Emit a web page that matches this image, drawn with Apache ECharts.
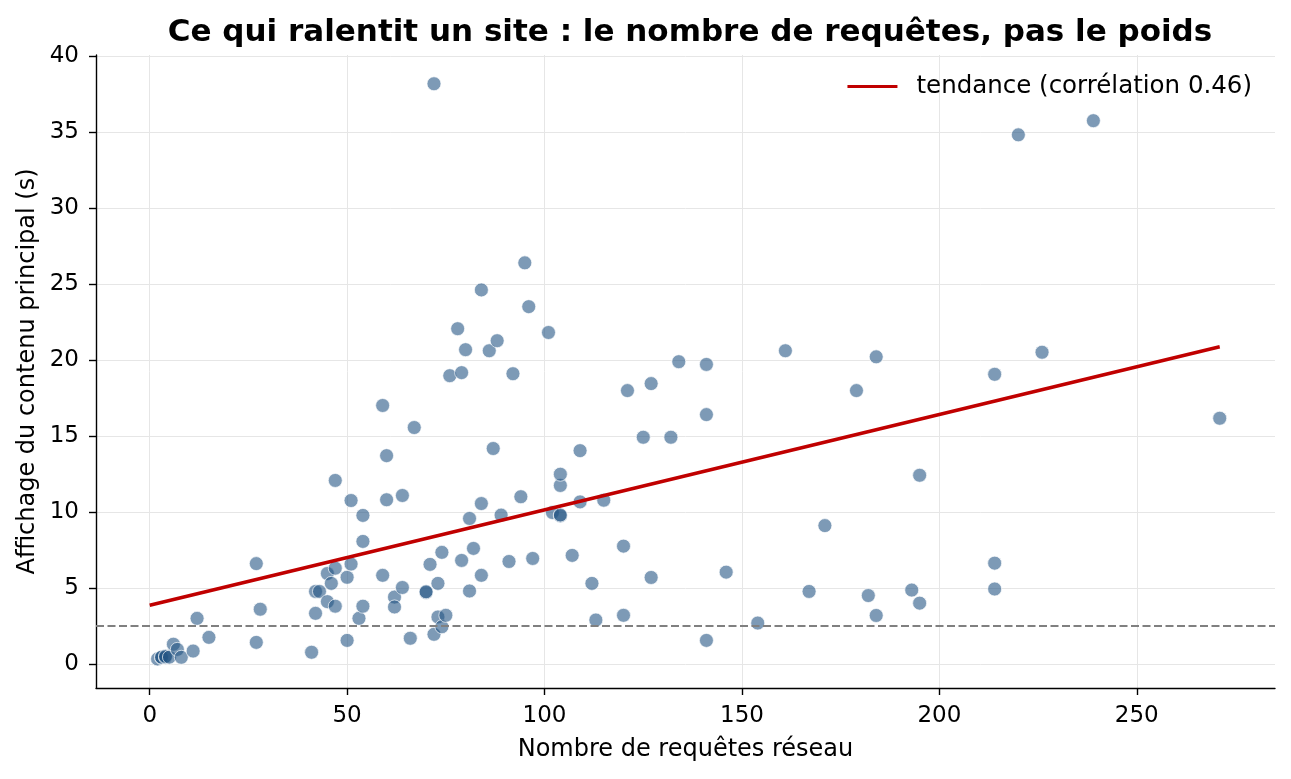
<!DOCTYPE html>
<html>
<head>
<meta charset="utf-8">
<title>Requêtes vs affichage</title>
<script src="https://cdn.jsdelivr.net/npm/echarts@6/dist/echarts.min.js"></script>
<style>
  html, body { margin: 0; padding: 0; background: #fff; }
  #chart { width: 1291px; height: 779px; }
</style>
</head>
<body>
<div id="chart"></div>
<script>
// number of requests per site (x)
var requests = [
  2, 3, 3, 4, 4, 5, 6, 7, 8, 11, 12, 15, 27, 27, 28,
  41, 42, 42, 43, 45, 45, 46, 47, 47, 47, 50, 50, 51, 51, 53, 54, 54, 54,
  59, 59, 60, 60, 62, 62, 64, 64, 66, 67, 70, 70, 71, 72, 72, 73, 73, 74, 74, 75,
  76, 78, 79, 79, 80, 81, 81, 82, 84, 84, 84, 86, 87, 88, 89, 91, 92, 94, 95, 96, 97,
  101, 102, 104, 104, 104, 104, 107, 109, 109, 112, 113, 115, 120, 120, 121,
  125, 127, 127, 132, 134, 141, 141, 141, 146, 154, 161, 167, 171, 179,
  182, 184, 184, 193, 195, 195, 214, 214, 214, 220, 226, 239, 271
];
// largest contentful paint, seconds (y)
var lcp = [
  0.33, 0.42, 0.45, 0.44, 0.5, 0.45, 1.3, 0.96, 0.44, 0.85, 3.0, 1.75, 6.6, 1.42, 3.6,
  0.77, 3.33, 4.77, 4.77, 4.1, 5.95, 5.3, 6.3, 3.8, 12.07, 5.7, 1.55, 6.57, 10.75, 3.0, 9.77, 8.06, 3.8,
  17.0, 5.83, 13.7, 10.8, 4.4, 3.75, 5.03, 11.08, 1.69, 15.55, 4.7, 4.75, 6.55, 1.95, 38.16, 5.3, 3.09, 7.34, 2.45, 3.2,
  18.96, 22.05, 19.16, 6.81, 20.67, 9.57, 4.8, 7.6, 5.83, 10.55, 24.6, 20.6, 14.17, 21.26, 9.79, 6.74, 19.09, 11.0, 26.38, 23.5, 6.94,
  21.8, 9.96, 9.74, 9.8, 11.74, 12.48, 7.14, 14.03, 10.66, 5.3, 2.89, 10.77, 7.75, 3.2, 17.98,
  14.91, 5.69, 18.44, 14.91, 19.88, 19.7, 16.4, 1.55, 6.04, 2.69, 20.6, 4.77, 9.1, 17.98,
  4.5, 20.2, 3.19, 4.86, 12.41, 4.0, 19.05, 6.63, 4.93, 34.8, 20.5, 35.73, 16.16
];
// fitted trend line end points
var trendX = [0, 271];
var trendY = [3.86, 20.86];
var threshold = 2.5;

var xTicks = [0, 50, 100, 150, 200, 250];
var yTicks = [0, 5, 10, 15, 20, 25, 30, 35, 40];
var trendName = "tendance (corrélation 0.46)";

var points = requests.map(function (x, i) { return [x, lcp[i]]; });
var trend = trendX.map(function (x, i) { return [x, trendY[i]]; });

var font = "DejaVu Sans";
var chart = echarts.init(document.getElementById("chart"));

var axisCommon = {
  axisLine: { show: true, onZero: false, lineStyle: { color: "#000", width: 1.4 } },
  axisTick: { show: true, inside: false, length: 7, lineStyle: { color: "#000", width: 1.4 } },
  axisLabel: { color: "#000", fontFamily: font, fontSize: 23 },
  splitLine: { show: true, lineStyle: { color: "#e6e6e6", width: 1 } },
  nameLocation: "middle",
  nameMoveOverlap: false,
  nameTextStyle: { color: "#000", fontFamily: font, fontSize: 24 }
};

var option = {
  animation: false,
  backgroundColor: "#fff",
  title: {
    text: "Ce qui ralentit un site : le nombre de requêtes, pas le poids",
    left: 685,
    textAlign: "center",
    top: 12,
    textStyle: { fontFamily: font, fontWeight: "bold", fontSize: 31, color: "#000" }
  },
  legend: {
    data: [{ name: trendName, icon: "rect" }],
    right: 39,
    top: 74,
    padding: 0,
    itemWidth: 50,
    itemHeight: 3,
    textStyle: { fontFamily: font, fontSize: 24.5, color: "#000", padding: [0, 0, 0, 14] }
  },
  grid: { left: 96, right: 16, top: 55, bottom: 91, containLabel: false },
  xAxis: Object.assign({}, axisCommon, {
    type: "value",
    min: -13.6,
    max: 285,
    name: "Nombre de requêtes réseau",
    nameGap: 50,
    axisTick: Object.assign({}, axisCommon.axisTick, { customValues: xTicks }),
    axisLabel: Object.assign({}, axisCommon.axisLabel, { customValues: xTicks, margin: 17 })
  }),
  yAxis: Object.assign({}, axisCommon, {
    type: "value",
    min: -1.58,
    max: 40.05,
    name: "Affichage du contenu principal (s)",
    nameGap: 56,
    axisTick: Object.assign({}, axisCommon.axisTick, { customValues: yTicks }),
    axisLabel: Object.assign({}, axisCommon.axisLabel, { customValues: yTicks, margin: 17 })
  }),
  series: [
    {
      type: "scatter",
      data: points,
      symbolSize: 14,
      itemStyle: {
        color: "rgba(35, 84, 132, 0.74)",
        borderColor: "rgba(255, 255, 255, 0.85)",
        borderWidth: 1
      },
      markLine: {
        silent: true,
        symbol: "none",
        label: { show: false },
        lineStyle: { color: "#808080", type: [8, 3.5], width: 1.8 },
        data: [{ yAxis: threshold }]
      },
      z: 2
    },
    {
      name: trendName,
      type: "line",
      data: trend,
      showSymbol: false,
      lineStyle: { color: "#c00000", width: 3.5 },
      itemStyle: { color: "#c00000" },
      z: 3
    }
  ]
};

chart.setOption(option);
</script>
</body>
</html>
